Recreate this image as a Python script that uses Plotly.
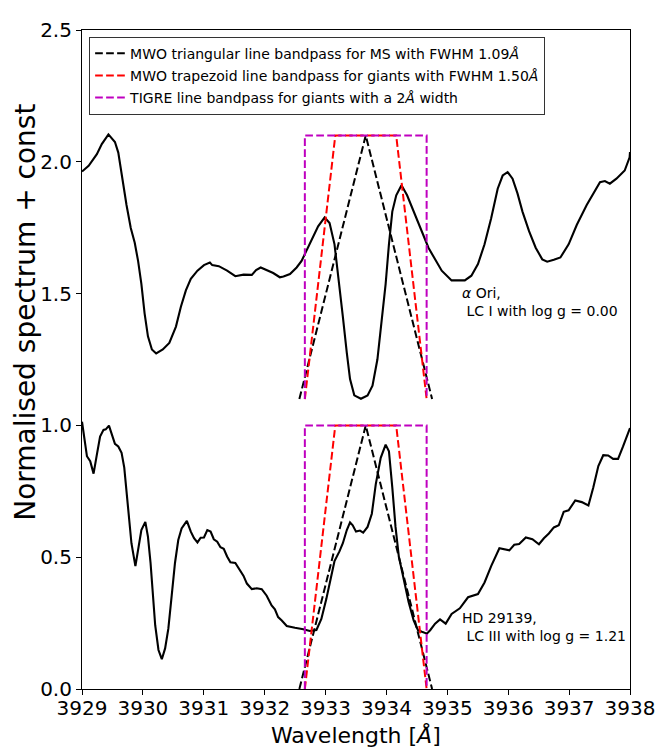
import plotly.graph_objects as go

# ---------------- data ----------------
# alpha Ori spectrum (already shifted by the constant, as plotted)
alpha_wave = [3929.000, 3929.109, 3929.244, 3929.325, 3929.434, 3929.541, 3929.596, 3929.650,
              3929.731, 3929.801, 3929.866, 3929.921, 3929.975, 3930.028, 3930.083, 3930.148,
              3930.218, 3930.327, 3930.434, 3930.543, 3930.624, 3930.706, 3930.787, 3930.896,
              3931.003, 3931.100, 3931.139, 3931.247, 3931.383, 3931.518, 3931.653, 3931.789,
              3931.859, 3931.935, 3932.033, 3932.140, 3932.249, 3932.309, 3932.416, 3932.525,
              3932.606, 3932.687, 3932.796, 3932.878, 3932.985, 3933.066, 3933.147, 3933.228,
              3933.284, 3933.349, 3933.402, 3933.472, 3933.581, 3933.690, 3933.771, 3933.852,
              3933.922, 3933.987, 3934.041, 3934.096, 3934.161, 3934.247, 3934.339, 3934.474,
              3934.583, 3934.690, 3934.799, 3934.908, 3935.070, 3935.287, 3935.395, 3935.503,
              3935.611, 3935.720, 3935.827, 3935.909, 3935.990, 3936.071, 3936.152, 3936.234,
              3936.342, 3936.451, 3936.559, 3936.640, 3936.749, 3936.857, 3936.992, 3937.127,
              3937.289, 3937.398, 3937.507, 3937.588, 3937.669, 3937.777, 3937.913, 3937.994,
              3938.000]
alpha_flux = [1.963, 1.985, 2.029, 2.067, 2.104, 2.075, 2.035, 1.948,
              1.836, 1.749, 1.693, 1.624, 1.537, 1.425, 1.338, 1.288,
              1.273, 1.288, 1.313, 1.375, 1.450, 1.512, 1.556, 1.587,
              1.608, 1.618, 1.608, 1.604, 1.587, 1.566, 1.572, 1.571,
              1.589, 1.599, 1.589, 1.578, 1.562, 1.565, 1.574, 1.599,
              1.624, 1.662, 1.711, 1.755, 1.789, 1.768, 1.687, 1.537,
              1.413, 1.275, 1.176, 1.114, 1.101, 1.114, 1.151, 1.251,
              1.388, 1.537, 1.687, 1.811, 1.873, 1.911, 1.873, 1.799,
              1.737, 1.674, 1.630, 1.587, 1.550, 1.550, 1.568, 1.612,
              1.687, 1.786, 1.898, 1.948, 1.961, 1.936, 1.880, 1.811,
              1.737, 1.674, 1.630, 1.621, 1.628, 1.637, 1.687, 1.761,
              1.836, 1.880, 1.923, 1.927, 1.917, 1.936, 1.967, 2.017,
              2.037]

# HD 29139 spectrum
hd_wave = [3929.000, 3929.044, 3929.081, 3929.135, 3929.190, 3929.244, 3929.297, 3929.353,
           3929.390, 3929.443, 3929.487, 3929.541, 3929.596, 3929.650, 3929.694, 3929.731,
           3929.768, 3929.812, 3929.877, 3929.921, 3929.975, 3930.040, 3930.083, 3930.126,
           3930.165, 3930.202, 3930.256, 3930.311, 3930.365, 3930.418, 3930.473, 3930.527,
           3930.581, 3930.636, 3930.722, 3930.787, 3930.840, 3930.896, 3930.949, 3931.003,
           3931.058, 3931.112, 3931.165, 3931.221, 3931.274, 3931.328, 3931.383, 3931.437,
           3931.518, 3931.572, 3931.653, 3931.708, 3931.789, 3931.870, 3931.952, 3932.033,
           3932.114, 3932.168, 3932.221, 3932.281, 3932.363, 3932.497, 3932.634, 3932.741,
           3932.850, 3932.931, 3933.012, 3933.094, 3933.147, 3933.228, 3933.284, 3933.349,
           3933.402, 3933.446, 3933.500, 3933.565, 3933.618, 3933.690, 3933.760, 3933.825,
           3933.906, 3933.987, 3934.041, 3934.096, 3934.149, 3934.203, 3934.284, 3934.365,
           3934.447, 3934.518, 3934.583, 3934.664, 3934.718, 3934.799, 3934.880, 3934.973,
           3935.070, 3935.205, 3935.340, 3935.503, 3935.611, 3935.720, 3935.855, 3935.936,
           3936.018, 3936.099, 3936.180, 3936.289, 3936.397, 3936.505, 3936.586, 3936.667,
           3936.749, 3936.830, 3936.911, 3936.992, 3937.101, 3937.208, 3937.317, 3937.398,
           3937.480, 3937.561, 3937.642, 3937.723, 3937.804, 3937.886, 3937.994, 3938.000]
hd_flux = [1.014, 0.952, 0.883, 0.864, 0.817, 0.889, 0.958, 0.983,
           0.985, 0.999, 0.964, 0.930, 0.920, 0.896, 0.840, 0.752,
           0.653, 0.553, 0.466, 0.528, 0.603, 0.634, 0.578, 0.478,
           0.354, 0.242, 0.148, 0.113, 0.154, 0.229, 0.354, 0.478,
           0.565, 0.609, 0.638, 0.597, 0.572, 0.556, 0.574, 0.575,
           0.603, 0.597, 0.568, 0.559, 0.538, 0.532, 0.503, 0.481,
           0.478, 0.460, 0.429, 0.400, 0.379, 0.382, 0.379, 0.354,
           0.317, 0.302, 0.273, 0.260, 0.239, 0.232, 0.227, 0.220,
           0.224, 0.266, 0.341, 0.429, 0.485, 0.522, 0.553, 0.603,
           0.632, 0.621, 0.597, 0.601, 0.593, 0.615, 0.665, 0.777,
           0.877, 0.927, 0.902, 0.765, 0.615, 0.503, 0.416, 0.329,
           0.260, 0.223, 0.217, 0.210, 0.223, 0.248, 0.264, 0.248,
           0.285, 0.306, 0.348, 0.360, 0.404, 0.466, 0.534, 0.531,
           0.526, 0.547, 0.550, 0.575, 0.568, 0.549, 0.572, 0.590,
           0.613, 0.621, 0.672, 0.678, 0.715, 0.709, 0.696, 0.765,
           0.846, 0.887, 0.886, 0.873, 0.873, 0.920, 0.983, 0.990]

# bandpass definitions
LINE_CENTER = 3933.66      # Ca II K
TRI_FWHM = 1.09            # MWO triangular (MS)
TRAP_BASE = 2.00           # MWO trapezoid base width
TRAP_TOP = 1.00            # MWO trapezoid top width (FWHM 1.50)
TIGRE_WIDTH = 2.00         # TIGRE rectangular width
BAND_HEIGHT = 1.0
OFFSETS = [0.0, 1.1]       # lower / upper spectrum constants

labels = [
    "MWO triangular line bandpass for MS with FWHM 1.09<i>Å</i>",
    "MWO trapezoid line bandpass for giants with FWHM 1.50<i>Å</i>",
    "TIGRE line bandpass for giants with a 2<i>Å</i> width",
]
colors = ["black", "#ff0000", "#bf00bf"]

# ---------------- build bandpass polylines ----------------
c = LINE_CENTER
tri_x, tri_y, trap_x, trap_y, rect_x, rect_y = [], [], [], [], [], []
for off in OFFSETS:
    tri_x += [c - TRI_FWHM, c, c + TRI_FWHM, None]
    tri_y += [off, off + BAND_HEIGHT, off, None]
    trap_x += [c - TRAP_BASE / 2, c - TRAP_TOP / 2, c + TRAP_TOP / 2, c + TRAP_BASE / 2, None]
    trap_y += [off, off + BAND_HEIGHT, off + BAND_HEIGHT, off, None]
    rect_x += [c - TIGRE_WIDTH / 2, c - TIGRE_WIDTH / 2, c + TIGRE_WIDTH / 2, c + TIGRE_WIDTH / 2, None]
    rect_y += [off, off + BAND_HEIGHT, off + BAND_HEIGHT, off, None]

FONT = "DejaVu Sans"
DASH = "7.7px,3.3px"

fig = go.Figure()
fig.add_trace(go.Scatter(x=alpha_wave, y=alpha_flux, mode="lines",
                         line=dict(color="black", width=2.1), showlegend=False, hoverinfo="skip"))
fig.add_trace(go.Scatter(x=hd_wave, y=hd_flux, mode="lines",
                         line=dict(color="black", width=2.1), showlegend=False, hoverinfo="skip"))

for i, (bx, by) in enumerate([(tri_x, tri_y), (trap_x, trap_y), (rect_x, rect_y)]):
    fig.add_trace(go.Scatter(x=bx, y=by, mode="lines", name=labels[i], legendgroup=f"g{i}",
                             line=dict(color=colors[i], width=2, dash=DASH)))

axis_common = dict(showgrid=False, zeroline=False, showline=True, linecolor="black", linewidth=1.1,
                   mirror=True, ticks="outside", ticklen=5, tickwidth=1.1, tickcolor="black",
                   ticklabeloverflow="allow",
                   tickfont=dict(family=FONT, size=20, color="black"))

# the page body keeps an 8px margin, so the figure is sized/offset to compensate
fig.update_layout(
    width=657, height=743,
    margin=dict(l=74, r=28, t=10, b=62),
    paper_bgcolor="white", plot_bgcolor="white",
    font=dict(family=FONT, color="black"),
    xaxis=dict(range=[3929, 3938], tick0=3929, dtick=1, ticklabelstandoff=-4, **axis_common),
    yaxis=dict(range=[0, 2.5], tick0=0, dtick=0.5, tickformat=".1f", **axis_common),
    legend=dict(x=0.013, y=0.99, xanchor="left", yanchor="top", bgcolor="white",
                bordercolor="#333333", borderwidth=1, tracegroupgap=1,
                font=dict(family=FONT, size=14, color="black")),
    annotations=[
        dict(text="Wavelength [<i>Å</i>]", xref="paper", yref="paper", x=0.5, y=-0.070,
             xanchor="center", yanchor="middle", showarrow=False,
             font=dict(family=FONT, size=22, color="black")),
        dict(text="Normalised spectrum + const", xref="paper", yref="paper", x=-0.1045, y=0.572,
             xanchor="center", yanchor="middle", textangle=-90, showarrow=False,
             font=dict(family=FONT, size=28, color="black")),
        dict(text="<i>α</i> Ori,<br>\u00a0LC I with log g = 0.00", x=3935.205, y=1.468,
             xanchor="left", yanchor="middle", align="left",
             showarrow=False, font=dict(family=FONT, size=14, color="black")),
        dict(text="HD 29139,<br>\u00a0LC III with log g = 1.21", x=3935.205, y=0.237,
             xanchor="left", yanchor="middle", align="left",
             showarrow=False, font=dict(family=FONT, size=14, color="black")),
    ],
)

fig.write_html("out.html")
